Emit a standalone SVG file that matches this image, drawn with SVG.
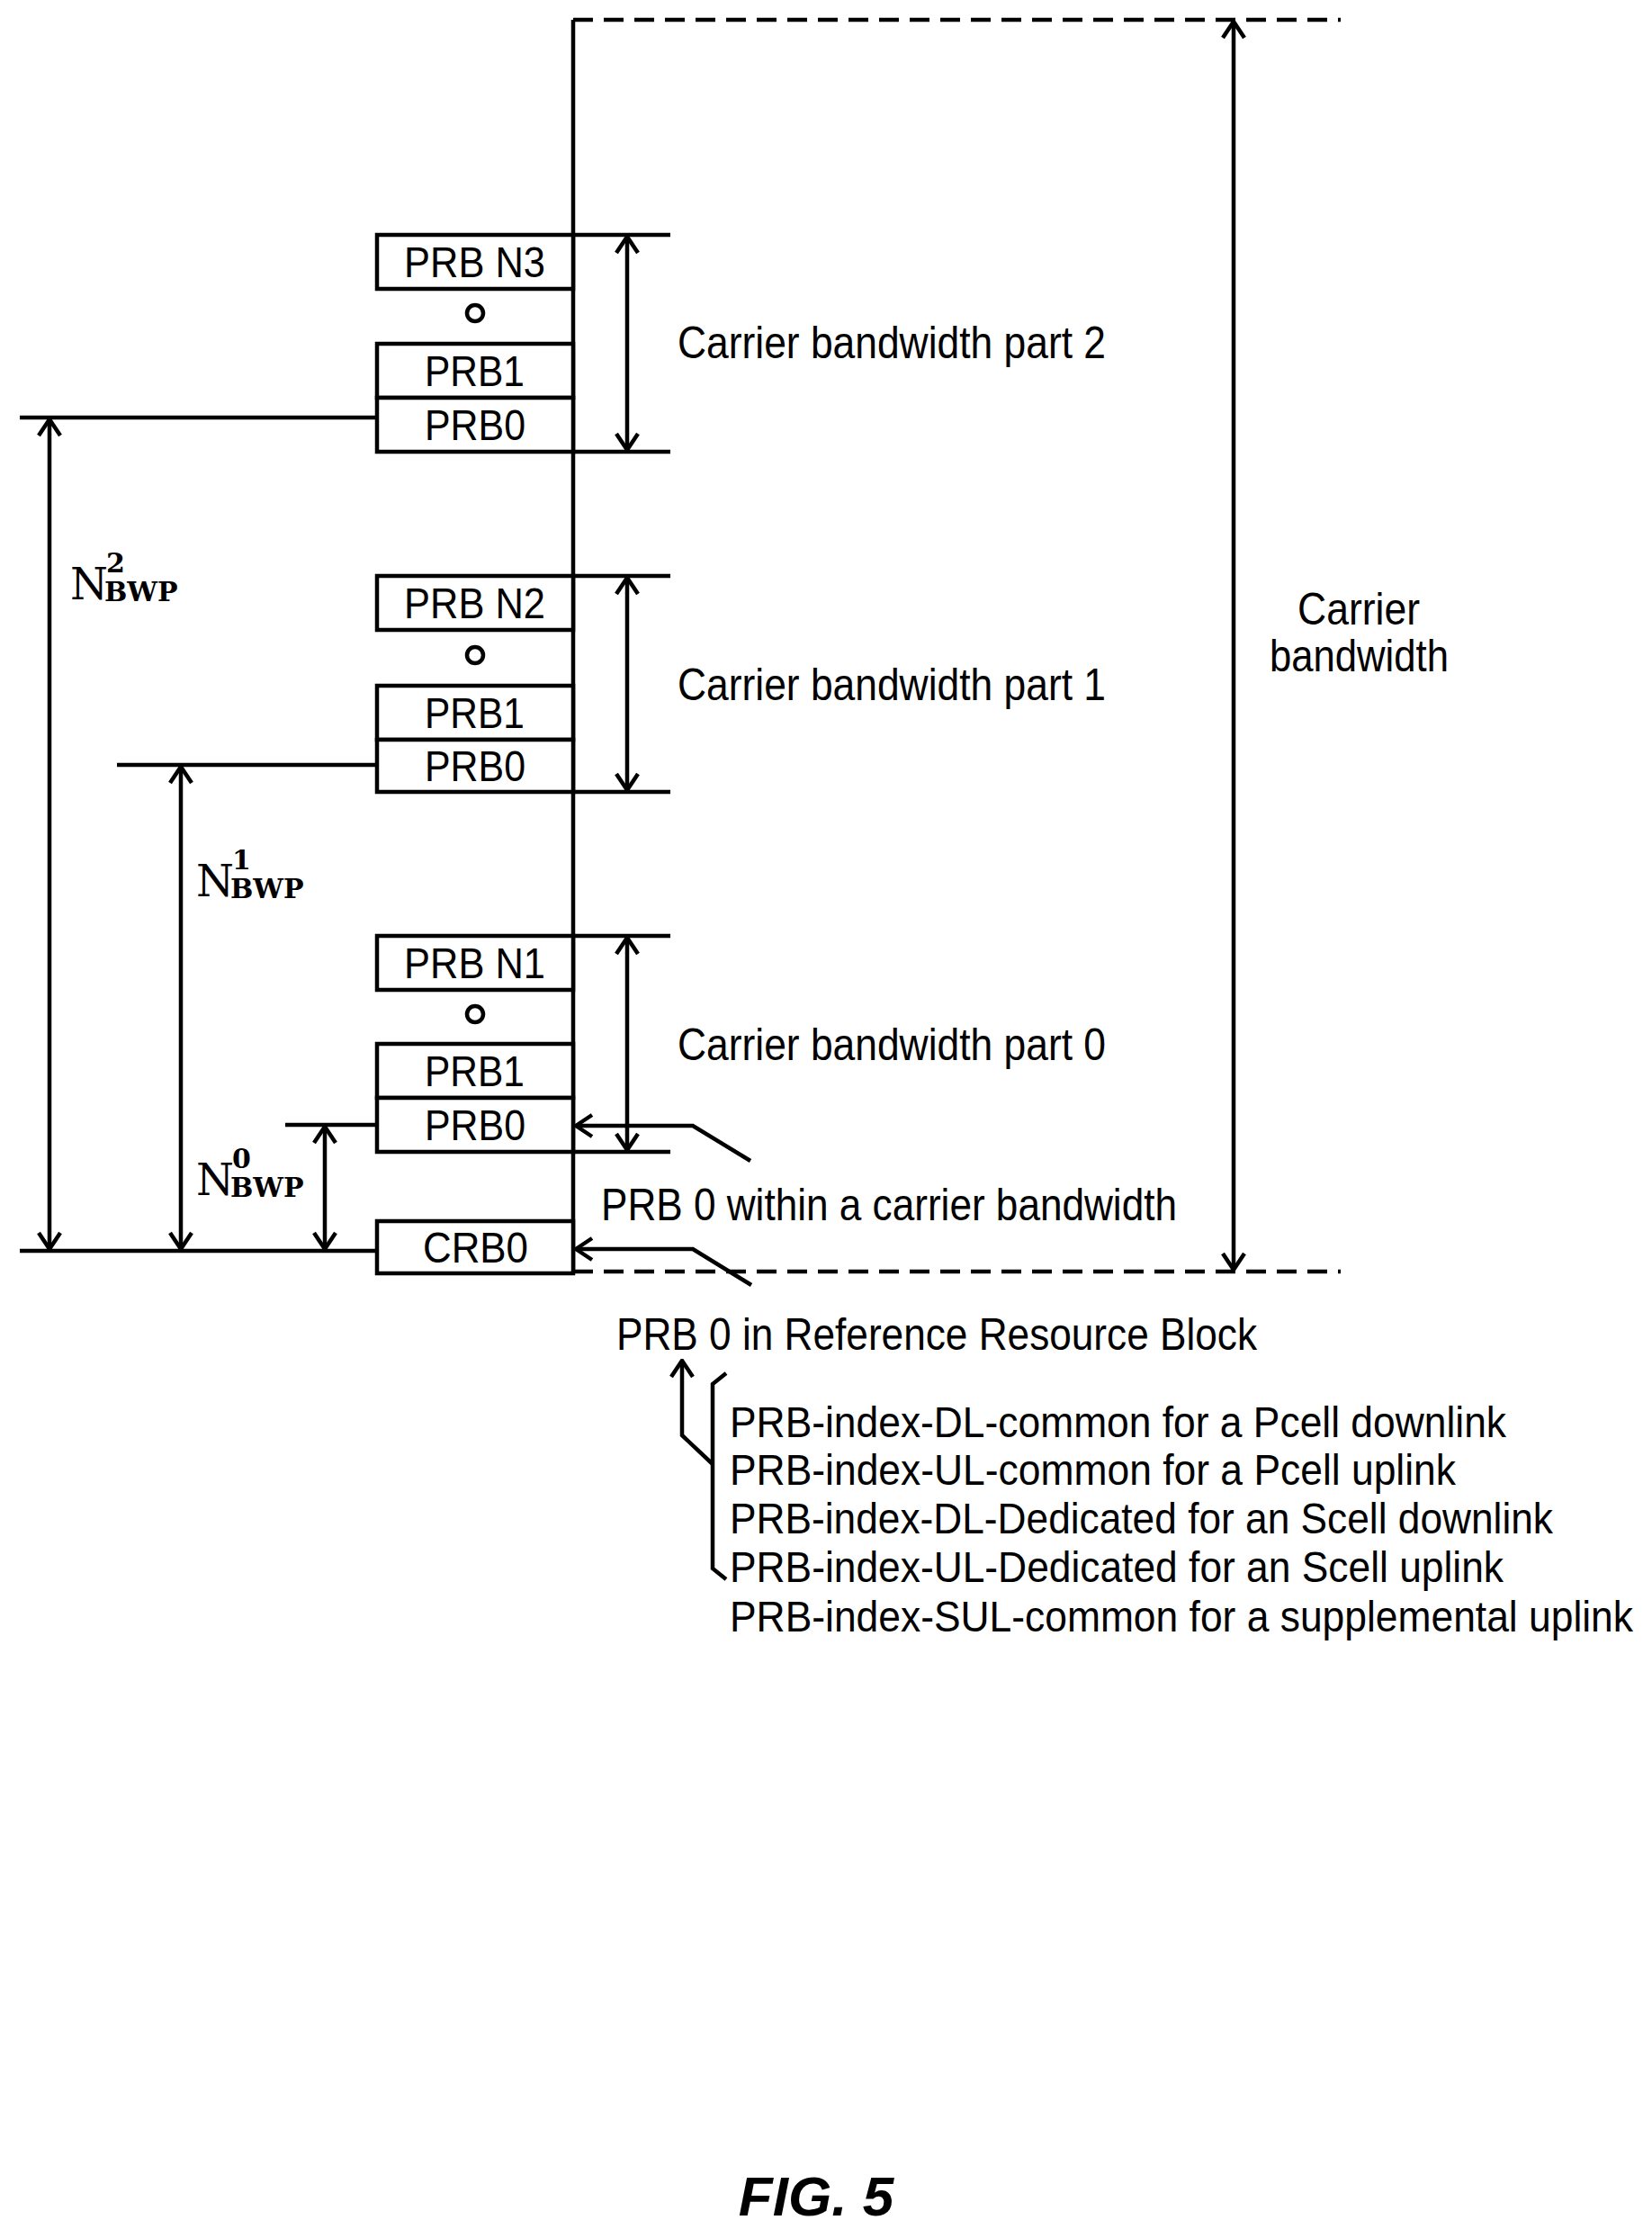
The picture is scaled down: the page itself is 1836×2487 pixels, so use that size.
<svg xmlns="http://www.w3.org/2000/svg" width="1836" height="2487" viewBox="0 0 1836 2487">
<style>
.l{stroke:#000;stroke-width:4.5;fill:none}
.d{stroke:#000;stroke-width:4.5;fill:none;stroke-dasharray:22 12}
.b{stroke:#000;stroke-width:4.5;fill:#fff}
.t{font-family:"Liberation Sans",sans-serif;font-size:50px;fill:#000}
.bt{font-family:"Liberation Sans",sans-serif;font-size:48px;fill:#000}
.s{font-family:"Liberation Sans",sans-serif;font-size:48px;fill:#000}
.n{font-family:"DejaVu Serif","Liberation Serif",serif;font-size:48px;fill:#000}
.ns{font-family:"DejaVu Serif","Liberation Serif",serif;font-size:30px;font-weight:bold;fill:#000}
</style>
<defs>
<marker id="a" viewBox="0 0 24 28" refX="22" refY="14" markerWidth="24" markerHeight="28" markerUnits="userSpaceOnUse" orient="auto-start-reverse">
<path d="M4,2 L22,14 L4,26" fill="none" stroke="#000" stroke-width="4.5"/>
</marker>
</defs>
<g id="connectors">
<line class="l" x1="637" y1="22" x2="637" y2="1413"/>
<line class="d" x1="637" y1="22" x2="1490" y2="22"/>
<line class="d" x1="637" y1="1413" x2="1490" y2="1413"/>
<line class="l" x1="1371" y1="24" x2="1371" y2="1411" marker-start="url(#a)" marker-end="url(#a)"/>
<line class="l" x1="637" y1="261" x2="745" y2="261"/>
<line class="l" x1="637" y1="502" x2="745" y2="502"/>
<line class="l" x1="697" y1="263" x2="697" y2="500" marker-start="url(#a)" marker-end="url(#a)"/>
<line class="l" x1="637" y1="640" x2="745" y2="640"/>
<line class="l" x1="637" y1="880" x2="745" y2="880"/>
<line class="l" x1="697" y1="642" x2="697" y2="878" marker-start="url(#a)" marker-end="url(#a)"/>
<line class="l" x1="637" y1="1040" x2="745" y2="1040"/>
<line class="l" x1="637" y1="1280" x2="745" y2="1280"/>
<line class="l" x1="697" y1="1042" x2="697" y2="1278" marker-start="url(#a)" marker-end="url(#a)"/>
<line class="l" x1="22" y1="464" x2="419" y2="464"/>
<line class="l" x1="130" y1="850" x2="419" y2="850"/>
<line class="l" x1="317" y1="1250" x2="419" y2="1250"/>
<line class="l" x1="22" y1="1390" x2="419" y2="1390"/>
<line class="l" x1="55" y1="466" x2="55" y2="1388" marker-start="url(#a)" marker-end="url(#a)"/>
<line class="l" x1="201" y1="852" x2="201" y2="1388" marker-start="url(#a)" marker-end="url(#a)"/>
<line class="l" x1="361" y1="1252" x2="361" y2="1388" marker-start="url(#a)" marker-end="url(#a)"/>
<polyline class="l" points="834,1290 770,1251 640,1251" marker-end="url(#a)"/>
<polyline class="l" points="835,1428 770,1388 640,1388" marker-end="url(#a)"/>
<polyline class="l" points="792,1627 758,1595 758,1512" marker-end="url(#a)"/>
<polyline class="l" points="807,1526 792,1538 792,1743 807,1755"/>
</g>
<g id="part2">
<rect class="b" x="419" y="261" width="218" height="60"/>
<text class="bt" x="449" y="308" textLength="157" lengthAdjust="spacingAndGlyphs">PRB N3</text>
<circle class="l" cx="528" cy="348" r="9"/>
<rect class="b" x="419" y="382" width="218" height="60"/>
<text class="bt" x="472" y="429" textLength="111" lengthAdjust="spacingAndGlyphs">PRB1</text>
<rect class="b" x="419" y="442" width="218" height="60"/>
<text class="bt" x="472" y="489" textLength="112" lengthAdjust="spacingAndGlyphs">PRB0</text>
<text class="t" x="753" y="398" textLength="476" lengthAdjust="spacingAndGlyphs">Carrier bandwidth part 2</text>
</g>
<g id="part1">
<rect class="b" x="419" y="640" width="218" height="60"/>
<text class="bt" x="449" y="687" textLength="157" lengthAdjust="spacingAndGlyphs">PRB N2</text>
<circle class="l" cx="528" cy="728" r="9"/>
<rect class="b" x="419" y="762" width="218" height="60"/>
<text class="bt" x="472" y="809" textLength="111" lengthAdjust="spacingAndGlyphs">PRB1</text>
<rect class="b" x="419" y="822" width="218" height="58"/>
<text class="bt" x="472" y="868" textLength="112" lengthAdjust="spacingAndGlyphs">PRB0</text>
<text class="t" x="753" y="778" textLength="476" lengthAdjust="spacingAndGlyphs">Carrier bandwidth part 1</text>
</g>
<g id="part0">
<rect class="b" x="419" y="1040" width="218" height="60"/>
<text class="bt" x="449" y="1087" textLength="157" lengthAdjust="spacingAndGlyphs">PRB N1</text>
<circle class="l" cx="528" cy="1127" r="9"/>
<rect class="b" x="419" y="1160" width="218" height="60"/>
<text class="bt" x="472" y="1207" textLength="111" lengthAdjust="spacingAndGlyphs">PRB1</text>
<rect class="b" x="419" y="1220" width="218" height="60"/>
<text class="bt" x="472" y="1267" textLength="112" lengthAdjust="spacingAndGlyphs">PRB0</text>
<text class="t" x="753" y="1178" textLength="476" lengthAdjust="spacingAndGlyphs">Carrier bandwidth part 0</text>
</g>
<g id="crb0">
<rect class="b" x="419" y="1357" width="218" height="58"/>
<text class="bt" x="470" y="1403" textLength="117" lengthAdjust="spacingAndGlyphs">CRB0</text>
</g>
<g id="labels">
<text class="t" x="1442" y="694" textLength="136" lengthAdjust="spacingAndGlyphs">Carrier</text>
<text class="t" x="1411" y="746" textLength="199" lengthAdjust="spacingAndGlyphs">bandwidth</text>
<text class="n" x="78" y="666">N</text><text class="ns" x="118" y="636">2</text><text class="ns" x="116" y="668">BWP</text>
<text class="n" x="218" y="996">N</text><text class="ns" x="258" y="966">1</text><text class="ns" x="256" y="998">BWP</text>
<text class="n" x="218" y="1328">N</text><text class="ns" x="258" y="1298">0</text><text class="ns" x="256" y="1330">BWP</text>
<text class="t" x="668" y="1356" textLength="640" lengthAdjust="spacingAndGlyphs">PRB 0 within a carrier bandwidth</text>
<text class="t" x="685" y="1500" textLength="712" lengthAdjust="spacingAndGlyphs">PRB 0 in Reference Resource Block</text>
<text class="s" x="811" y="1597" textLength="863" lengthAdjust="spacingAndGlyphs">PRB-index-DL-common for a Pcell downlink</text>
<text class="s" x="811" y="1650" textLength="807" lengthAdjust="spacingAndGlyphs">PRB-index-UL-common for a Pcell uplink</text>
<text class="s" x="811" y="1704" textLength="915" lengthAdjust="spacingAndGlyphs">PRB-index-DL-Dedicated for an Scell downlink</text>
<text class="s" x="811" y="1758" textLength="860" lengthAdjust="spacingAndGlyphs">PRB-index-UL-Dedicated for an Scell uplink</text>
<text class="s" x="811" y="1813" textLength="1004" lengthAdjust="spacingAndGlyphs">PRB-index-SUL-common for a supplemental uplink</text>
<text x="907" y="2462" text-anchor="middle" style="font-family:'Liberation Sans',Arial,sans-serif;font-size:62px;font-weight:bold;font-style:italic">FIG. 5</text>
</g>
</svg>
